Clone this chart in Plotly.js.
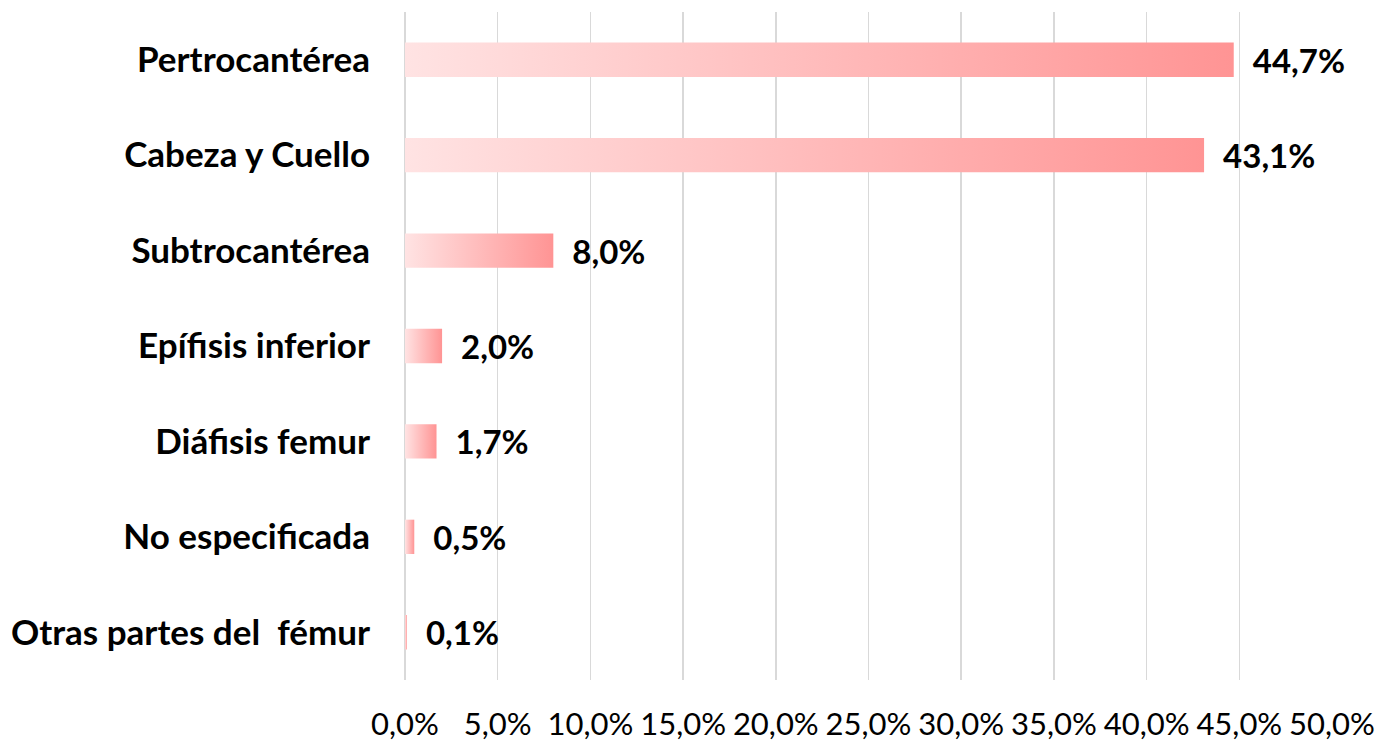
<!DOCTYPE html>
<html>
<head>
<meta charset="utf-8">
<script src="https://cdn.plot.ly/plotly-3.0.1.min.js"></script>
<style>html,body{margin:0;padding:0;background:#fff;}#chart{width:1383px;height:743px;}</style>
</head>
<body>
<div id="chart"></div>
<script>
const categories = ["Pertrocantérea", "Cabeza y Cuello", "Subtrocantérea", "Epífisis inferior", "Diáfisis femur", "No especificada", "Otras partes del  fémur"];
const values = [44.7, 43.1, 8.0, 2.0, 1.7, 0.5, 0.1];
const tickValues = [0, 5, 10, 15, 20, 25, 30, 35, 40, 45, 50];
const tickLabels = ["0,0%", "5,0%", "10,0%", "15,0%", "20,0%", "25,0%", "30,0%", "35,0%", "40,0%", "45,0%", "50,0%"];

const trace = {
  type: 'bar',
  orientation: 'h',
  y: categories,
  x: values,
  marker: {color: '#FFB0B0', line: {width: 0}},
  text: values.map(v => '\u00a0\u00a0' + v.toFixed(1).replace('.', ',') + '%'),
  textposition: 'outside',
  constraintext: 'none',
  cliponaxis: false,
  textfont: {family: 'Lato, sans-serif', size: 33, color: '#000', weight: 'bold'},
  hoverinfo: 'none'
};

const layout = {
  width: 1383, height: 743,
  margin: {l: 405, r: 51, t: 12, b: 63},
  paper_bgcolor: '#fff', plot_bgcolor: '#fff',
  separators: ',.',
  showlegend: false,
  bargap: 0.64,
  xaxis: {
    range: [0, 50],
    tickmode: 'array',
    tickvals: tickValues,
    ticktext: tickLabels,
    tickangle: 0,
    showgrid: true,
    gridcolor: '#D9D9D9',
    gridwidth: 1.5,
    zeroline: true,
    zerolinecolor: '#D9D9D9',
    zerolinewidth: 1.5,
    showline: false,
    ticks: '',
    ticklabelstandoff: 23,
    tickfont: {family: 'Lato, sans-serif', size: 31, color: '#000'},
    fixedrange: true
  },
  yaxis: {
    autorange: 'reversed',
    showgrid: false,
    zeroline: false,
    showline: false,
    ticks: '',
    ticklabelstandoff: 34,
    tickfont: {family: 'Lato, sans-serif', size: 35, color: '#000', weight: 'bold'},
    fixedrange: true
  }
};

Plotly.newPlot('chart', [trace], layout, {displayModeBar: false, staticPlot: true}).then(function(gd) {
  const svg = gd.querySelector('svg.main-svg');
  const ns = 'http://www.w3.org/2000/svg';
  let defs = svg.querySelector('defs');
  if (!defs) { defs = document.createElementNS(ns, 'defs'); svg.insertBefore(defs, svg.firstChild); }
  const grad = document.createElementNS(ns, 'linearGradient');
  grad.setAttribute('id', 'barGrad');
  grad.setAttribute('x1', '0'); grad.setAttribute('y1', '0');
  grad.setAttribute('x2', '1'); grad.setAttribute('y2', '0');
  [['0', '#FFE3E3'], ['1', '#FF9494']].forEach(function(s) {
    const st = document.createElementNS(ns, 'stop');
    st.setAttribute('offset', s[0]);
    st.setAttribute('stop-color', s[1]);
    grad.appendChild(st);
  });
  defs.appendChild(grad);
  gd.querySelectorAll('.bars .point path').forEach(function(p) {
    p.style.fill = 'url(#barGrad)';
  });
});
</script>
</body>
</html>
